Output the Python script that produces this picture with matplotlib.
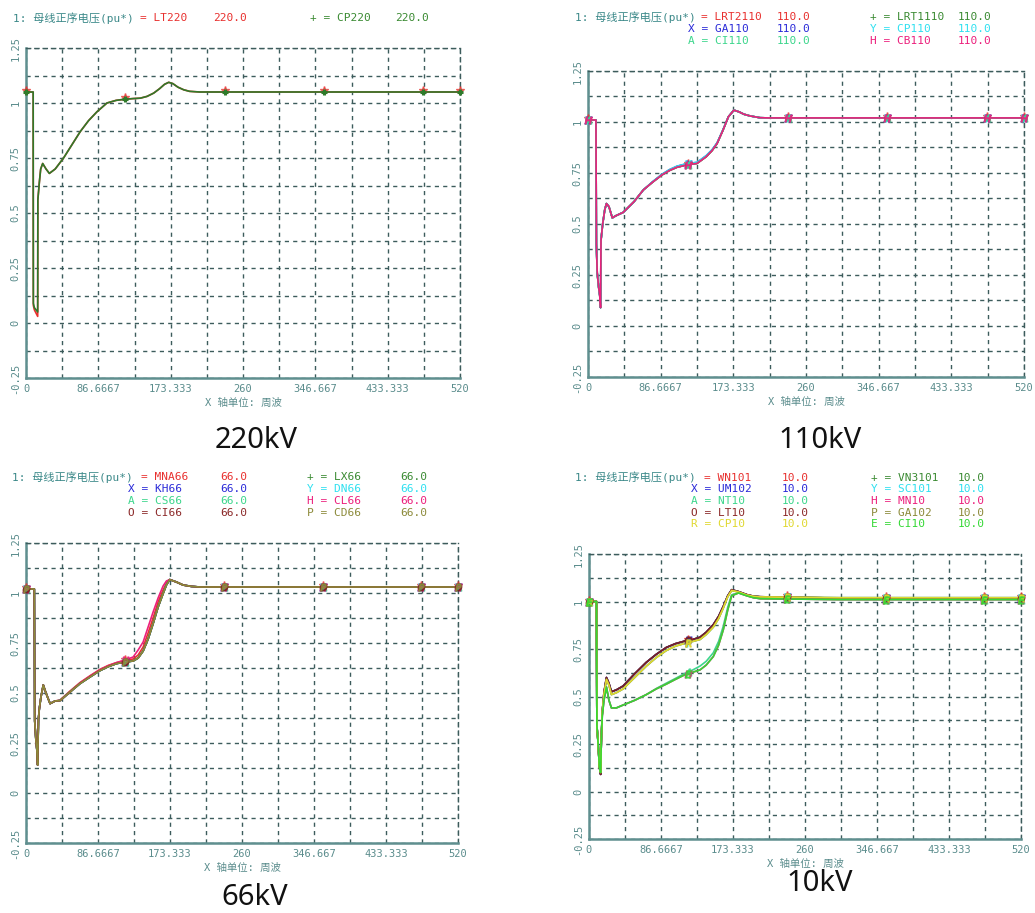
import numpy as np
import matplotlib
matplotlib.use("Agg")
import matplotlib.pyplot as plt

# ---------------- data ----------------
# sample times in cycles (周波) and positive-sequence bus voltage in pu
marker_t = [0, 119, 238, 357, 476, 520]

# 220 kV buses
t_220 = [0, 8.6, 8.8, 10, 12, 14, 14.2, 16, 17.6, 20,
         24, 28, 35, 45, 55, 65, 75, 85, 97, 108,
         118, 128, 137, 145, 153, 160, 166, 171, 176, 182,
         189, 196, 208, 300, 400, 520]
lt220 = [1.05, 1.05, 0.08, 0.06, 0.045, 0.03, 0.56, 0.64, 0.70, 0.725,
         0.70, 0.68, 0.70, 0.75, 0.81, 0.87, 0.92, 0.96, 1.00, 1.012,
         1.017, 1.02, 1.022, 1.03, 1.045, 1.065, 1.085, 1.094, 1.088, 1.072,
         1.06, 1.053, 1.05, 1.05, 1.05, 1.05]
cp220 = [1.05, 1.05, 0.09, 0.07, 0.06, 0.05, 0.56, 0.64, 0.70, 0.725,
         0.70, 0.68, 0.70, 0.75, 0.81, 0.87, 0.92, 0.96, 1.00, 1.012,
         1.017, 1.02, 1.022, 1.03, 1.045, 1.065, 1.085, 1.094, 1.088, 1.072,
         1.06, 1.053, 1.05, 1.05, 1.05, 1.05]

# 110 kV buses
t_110 = [0, 9.5, 10, 11, 12.7, 14, 15, 15.5, 17.5, 20,
         22, 25, 29, 33, 42, 55, 66, 77, 88, 97,
         106, 118, 130, 141, 148, 154, 161, 167.5, 174, 180,
         186, 193, 205, 215, 300, 400, 520]
v110_a = [1.01, 1.01, 0.40, 0.26, 0.19, 0.15, 0.09, 0.42, 0.50, 0.57,
          0.60, 0.585, 0.53, 0.54, 0.557, 0.61, 0.667, 0.705, 0.74, 0.762,
          0.778, 0.79, 0.797, 0.83, 0.86, 0.895, 0.96, 1.026, 1.058, 1.05,
          1.038, 1.03, 1.021, 1.02, 1.02, 1.02, 1.02]
v110_b = [1.01, 1.01, 0.40, 0.26, 0.19, 0.15, 0.09, 0.42, 0.50, 0.57,
          0.60, 0.585, 0.53, 0.54, 0.557, 0.61, 0.667, 0.707, 0.743, 0.766,
          0.783, 0.796, 0.802, 0.835, 0.864, 0.898, 0.962, 1.026, 1.058, 1.05,
          1.038, 1.03, 1.021, 1.02, 1.02, 1.02, 1.02]
names_110 = ["LRT2110", "LRT1110", "GA110", "CP110", "CI110", "CB110"]
values_110 = [v110_a, v110_a, v110_b, v110_b, v110_a, v110_a]

# 66 kV buses
t_66 = [0, 10, 10.5, 12, 13, 14, 15, 16, 18, 20.8,
        24, 29, 35, 41, 53, 65, 77, 89, 99, 109,
        119, 129, 135, 141, 147, 153, 159, 165, 169, 173,
        181, 189, 199, 209, 300, 400, 520]
v66_lag = [1.02, 1.02, 0.36, 0.26, 0.22, 0.14, 0.37, 0.42, 0.48, 0.54,
           0.50, 0.447, 0.46, 0.462, 0.505, 0.547, 0.58, 0.612, 0.632, 0.647,
           0.655, 0.66, 0.675, 0.71, 0.77, 0.847, 0.93, 0.997, 1.04, 1.067,
           1.055, 1.04, 1.033, 1.03, 1.03, 1.03, 1.03]
v66_mid = [1.02, 1.02, 0.36, 0.26, 0.22, 0.14, 0.37, 0.42, 0.48, 0.54,
           0.50, 0.447, 0.46, 0.465, 0.51, 0.552, 0.586, 0.618, 0.638, 0.652,
           0.662, 0.67, 0.69, 0.73, 0.80, 0.875, 0.955, 1.015, 1.05, 1.067,
           1.055, 1.04, 1.033, 1.03, 1.03, 1.03, 1.03]
v66_lead = [1.02, 1.02, 0.36, 0.26, 0.22, 0.14, 0.37, 0.42, 0.48, 0.54,
            0.50, 0.447, 0.46, 0.462, 0.505, 0.55, 0.584, 0.616, 0.636, 0.652,
            0.665, 0.68, 0.715, 0.755, 0.83, 0.905, 0.975, 1.035, 1.06, 1.067,
            1.055, 1.04, 1.033, 1.03, 1.03, 1.03, 1.03]
names_66 = ["MNA66", "LX66", "KH66", "DN66", "CS66", "CL66", "CI66", "CD66"]
values_66 = [v66_mid, v66_lag, v66_lag, v66_lag, v66_lag, v66_lead, v66_lag, v66_lag]

# 10 kV buses
t_10 = [0, 9, 9.5, 11, 12.5, 14, 15, 16, 18, 21,
        24, 27, 33, 41, 55, 69, 81, 93, 104, 115.6,
        125, 133.6, 141, 149.6, 156, 161.6, 167, 171.7, 180, 190,
        198, 206, 300, 400, 520]
v10_hi = [1.0, 1.0, 0.35, 0.25, 0.13, 0.09, 0.30, 0.42, 0.52, 0.60,
          0.57, 0.525, 0.535, 0.555, 0.62, 0.68, 0.722, 0.758, 0.778, 0.792,
          0.80, 0.812, 0.838, 0.878, 0.922, 0.974, 1.03, 1.062, 1.052, 1.036,
          1.028, 1.025, 1.018, 1.018, 1.018]
v10_mid = [1.0, 1.0, 0.35, 0.25, 0.13, 0.10, 0.30, 0.42, 0.51, 0.59,
           0.56, 0.51, 0.52, 0.54, 0.60, 0.66, 0.705, 0.742, 0.765, 0.78,
           0.79, 0.80, 0.826, 0.865, 0.91, 0.965, 1.025, 1.058, 1.05, 1.034,
           1.027, 1.024, 1.02, 1.02, 1.02]
v10_lo = [1.0, 1.0, 0.35, 0.25, 0.13, 0.10, 0.30, 0.40, 0.48, 0.55,
          0.48, 0.44, 0.44, 0.455, 0.48, 0.51, 0.54, 0.565, 0.59, 0.615,
          0.628, 0.64, 0.665, 0.71, 0.77, 0.85, 0.955, 1.03, 1.045, 1.03,
          1.02, 1.015, 1.01, 1.01, 1.01]
v10_lo2 = [1.0, 1.0, 0.35, 0.25, 0.13, 0.10, 0.30, 0.40, 0.48, 0.55,
           0.48, 0.44, 0.44, 0.455, 0.48, 0.51, 0.542, 0.57, 0.595, 0.622,
           0.64, 0.66, 0.685, 0.73, 0.79, 0.87, 0.97, 1.035, 1.045, 1.03,
           1.02, 1.015, 1.01, 1.01, 1.01]
names_10 = ["WN101", "VN3101", "UM102", "SC101", "NT10", "MN10",
            "LT10", "GA102", "CP10", "CI10"]
values_10 = [v10_hi, v10_hi, v10_hi, v10_mid, v10_lo2, v10_lo,
             v10_hi, v10_mid, v10_mid, v10_lo]

x_tick_labels = ["0", "86.6667", "173.333", "260", "346.667", "433.333", "520"]
y_tick_labels = ["-0.25", "0", "0.25", "0.5", "0.75", "1", "1.25"]

# ---------------- styling ----------------
plt.rcParams["font.family"] = ["DejaVu Sans Mono", "Noto Sans CJK SC"]

SERIES_COLORS = ["#e8302e", "#2f7a2a", "#2a2ad8", "#2ee0f0", "#3cd68c",
                 "#ec1f7c", "#7a2020", "#8c8a3a", "#e0d830", "#34d834"]
LEGEND_COLORS = ["#e8302e", "#3a8a32", "#2a2ad8", "#2ee0f0", "#3cd68c",
                 "#ec1f7c", "#8b2828", "#8c8a3a", "#e0d830", "#34d834"]
SERIES_SYMBOLS = ["", "+", "X", "Y", "A", "H", "O", "P", "R", "E"]
GRID = "#3d5c5c"
SPINE = "#5f8f8f"
TICK = "#5a8c8c"
TITLE = "#3a8888"

W, H = 1035, 913
fig = plt.figure(figsize=(W / 100, H / 100), dpi=100)
fig.patch.set_facecolor("white")


def add_axes_px(left, top, right, bottom):
    return fig.add_axes([left / W, 1 - bottom / H, (right - left) / W, (bottom - top) / H])


def style_axes(ax):
    ax.set_xlim(0, 520)
    ax.set_ylim(-0.25, 1.25)
    xt = np.linspace(0, 520, 13)
    yt = np.linspace(-0.25, 1.25, 13)
    ax.set_xticks(xt)
    ax.set_yticks(yt)
    ax.set_xticklabels([x_tick_labels[i // 2] if i % 2 == 0 else "" for i in range(13)])
    ax.set_yticklabels([y_tick_labels[i // 2] if i % 2 == 0 else "" for i in range(13)],
                       rotation=90, va="center")
    ax.tick_params(length=0, labelsize=7.5, labelcolor=TICK, pad=4)
    ax.grid(True, color=GRID, linestyle=(0, (3, 3)), linewidth=1.0)
    for s in ("left", "bottom"):
        ax.spines[s].set_color(SPINE)
        ax.spines[s].set_linewidth(1.8)
    for s in ("top", "right"):
        ax.spines[s].set_color(GRID)
        ax.spines[s].set_linewidth(1.0)
        ax.spines[s].set_linestyle((0, (3, 3)))
    ax.set_xlabel("X 轴单位: 周波", fontsize=7.5, color=TICK, labelpad=3)
    ax.set_axisbelow(True)


def draw_series(ax, t, series):
    for i, v in enumerate(series):
        c = SERIES_COLORS[i]
        ax.plot(t, v, color=c, lw=1.2, zorder=3 + i * 0.01)
        my = np.interp(marker_t, t, v)
        sym = SERIES_SYMBOLS[i]
        if i == 0:
            ax.plot(marker_t, my + 0.01, ls="none", marker="*", ms=6, color=c,
                    alpha=0.7, zorder=4, clip_on=False)
        elif sym == "+":
            ax.plot(marker_t, my, ls="none", marker="+", ms=5, mew=2.2, color=c,
                    zorder=4, clip_on=False)
        else:
            ax.plot(marker_t, my, ls="none", marker=f"${sym}$", ms=5, color=c,
                    alpha=0.8, zorder=4, clip_on=False)


def legend_block(title_x, rows_y, col_x, val_x, names, value):
    fig.text(title_x / W, 1 - rows_y[0] / H, "1: 母线正序电压(pu*)", color=TITLE,
             fontsize=8, va="center", ha="left")
    for i, name in enumerate(names):
        row, col = divmod(i, 2)
        y = 1 - rows_y[row] / H
        c = LEGEND_COLORS[i]
        sym = SERIES_SYMBOLS[i]
        label = f"= {name}" if i == 0 else f"{sym} = {name}"
        x0 = col_x[col] + (13 if i == 0 else 0)
        fig.text(x0 / W, y, label, color=c, fontsize=8, va="center", ha="left")
        fig.text(val_x[col] / W, y, value, color=c, fontsize=8, va="center", ha="left")


def caption(x, y_base, s):
    fig.text(x / W, 1 - y_base / H, s, ha="center", va="baseline", fontsize=21,
             family="Noto Sans", color="#111111")


# 220 kV
ax1 = add_axes_px(26, 48, 460, 378)
style_axes(ax1)
draw_series(ax1, t_220, [lt220, cp220])
legend_block(13, [18], [127, 310], [213, 395], ["LT220", "CP220"], "220.0")
caption(256, 448, "220kV")

# 110 kV
ax2 = add_axes_px(588, 71, 1024, 377)
style_axes(ax2)
draw_series(ax2, t_110, values_110)
legend_block(575, [17.5, 29.5, 41.5], [688, 870], [777, 958], names_110, "110.0")
caption(820, 448, "110kV")

# 66 kV
ax3 = add_axes_px(26, 543, 458, 843)
style_axes(ax3)
draw_series(ax3, t_66, values_66)
legend_block(12, [477, 489, 501, 513], [128, 307], [220, 400], names_66, "66.0")
caption(255, 905, "66kV")

# 10 kV
ax4 = add_axes_px(589, 554, 1021, 839)
style_axes(ax4)
draw_series(ax4, t_10, values_10)
legend_block(575, [477.5, 489, 501, 512.5, 524], [691, 871], [782, 958], names_10, "10.0")
caption(820, 891, "10kV")

fig.savefig("out.png", dpi=100, facecolor="white")
